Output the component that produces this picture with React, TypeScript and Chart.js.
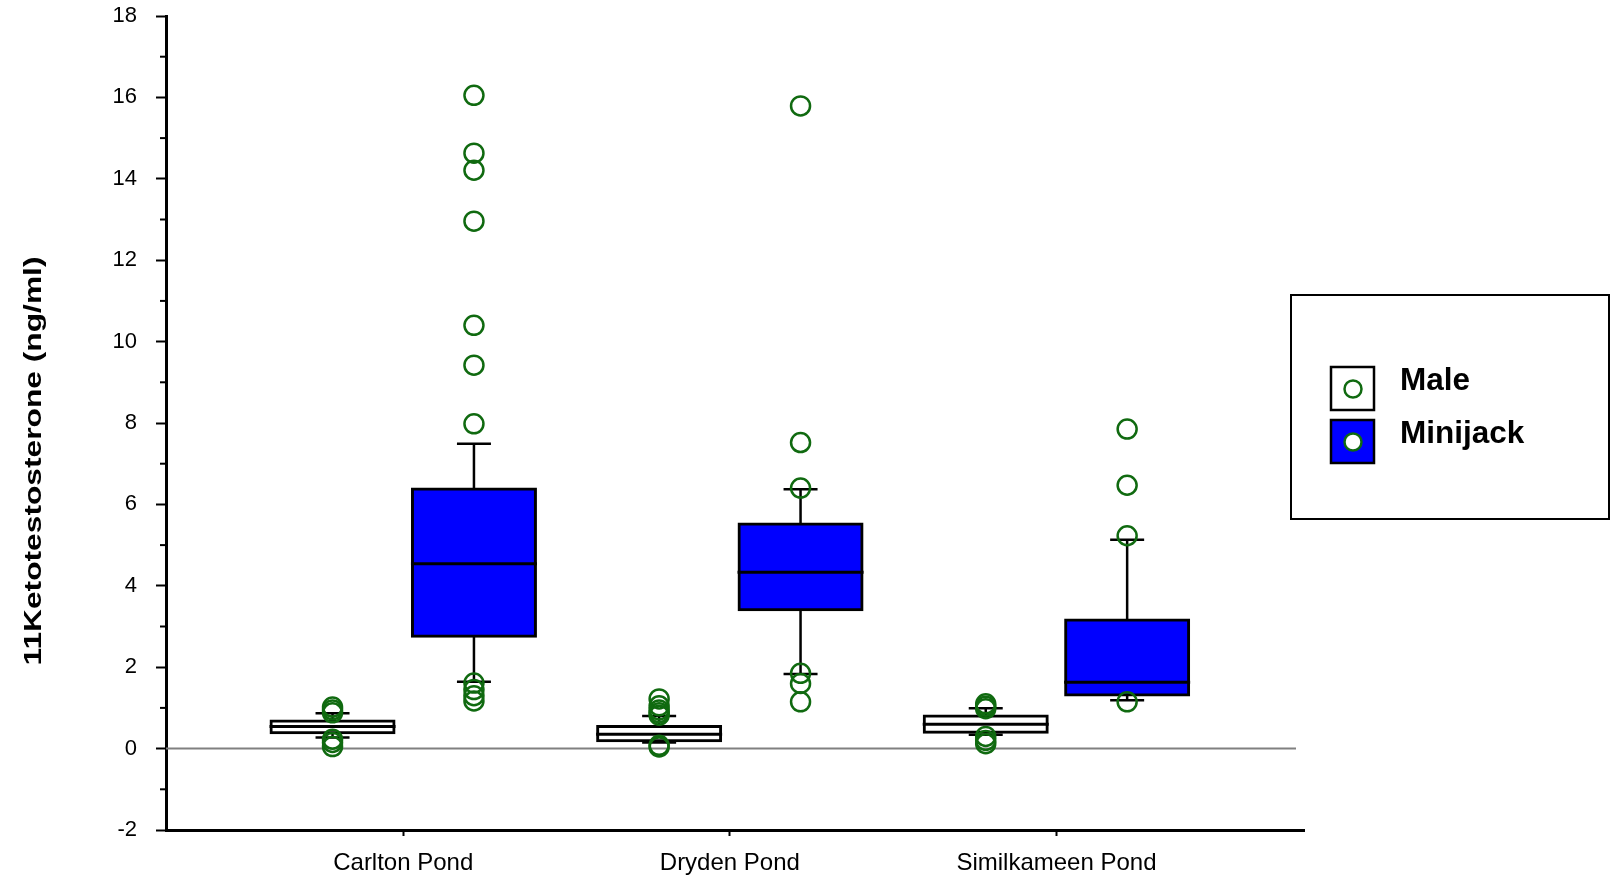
import { useEffect, useRef } from 'react';
import { Chart, registerables } from 'chart.js';

Chart.register(...registerables);

// ---------- data ----------
const ponds = ['Carlton Pond', 'Dryden Pond', 'Similkameen Pond'];
const seriesNames = ['Male', 'Minijack'];

const maleQ1 = [0.39, 0.19, 0.40];
const maleMedian = [0.54, 0.35, 0.60];
const maleQ3 = [0.68, 0.54, 0.80];
const maleWhiskerLow = [0.27, 0.15, 0.34];
const maleWhiskerHigh = [0.87, 0.80, 0.99];
const maleOutliers = [
  [1.02, 0.95, 0.88, 0.23, 0.15, 0.05],
  [1.22, 1.05, 0.95, 0.88, 0.82, 0.08, 0.04],
  [1.10, 1.04, 0.98, 0.30, 0.20, 0.12],
];

const minijackQ1 = [2.76, 3.41, 1.32];
const minijackMedian = [4.54, 4.33, 1.63];
const minijackQ3 = [6.38, 5.52, 3.16];
const minijackWhiskerLow = [1.64, 1.83, 1.19];
const minijackWhiskerHigh = [7.49, 6.37, 5.13];
const minijackOutliers = [
  [16.05, 14.63, 14.21, 12.96, 10.40, 9.42, 7.98, 1.61, 1.45, 1.30, 1.17],
  [15.79, 7.52, 6.40, 1.85, 1.60, 1.15],
  [7.85, 6.47, 5.23, 1.15],
];

const yMin = -2;
const yMax = 18;
const yStep = 2;
const yTitle = '11Ketotestosterone (ng/ml)';

// ---------- styling / layout ----------
const FONT = "'Liberation Sans', Arial, Helvetica, sans-serif";
const GREEN = '#106a10';
const BLUE = '#0000ff';
const GROUP_OFFSET = 0.2165;
const BAR_THICK = 123;
const BOX_W = 126;
const CAP_W = 34;

const groups = [
  { name: seriesNames[0], q1: maleQ1, med: maleMedian, q3: maleQ3, lo: maleWhiskerLow, hi: maleWhiskerHigh, out: maleOutliers, fill: '#ffffff', offset: -GROUP_OFFSET },
  { name: seriesNames[1], q1: minijackQ1, med: minijackMedian, q3: minijackQ3, lo: minijackWhiskerLow, hi: minijackWhiskerHigh, out: minijackOutliers, fill: BLUE, offset: GROUP_OFFSET },
];

const boxPlugin = {
  id: 'boxExtras',
  beforeDatasetsDraw(chart: any) {
    const { ctx, chartArea, scales } = chart;
    const x = scales.x;
    const y = scales.y;
    ctx.save();
    const y0 = y.getPixelForValue(0);
    ctx.strokeStyle = '#808080';
    ctx.lineWidth = 2;
    ctx.beginPath();
    ctx.moveTo(chartArea.left, y0);
    ctx.lineTo(chartArea.right - 8, y0);
    ctx.stroke();

    ctx.strokeStyle = '#000';
    ctx.lineWidth = 2.5;
    groups.forEach((g) => {
      ponds.forEach((_, i) => {
        const px = x.getPixelForValue(i + 1 + g.offset);
        const pHi = y.getPixelForValue(g.hi[i]);
        const pQ3 = y.getPixelForValue(g.q3[i]);
        const pLo = y.getPixelForValue(g.lo[i]);
        const pQ1 = y.getPixelForValue(g.q1[i]);
        ctx.beginPath();
        ctx.moveTo(px, pQ3);
        ctx.lineTo(px, pHi);
        ctx.moveTo(px - CAP_W / 2, pHi);
        ctx.lineTo(px + CAP_W / 2, pHi);
        ctx.moveTo(px, pQ1);
        ctx.lineTo(px, pLo);
        ctx.moveTo(px - CAP_W / 2, pLo);
        ctx.lineTo(px + CAP_W / 2, pLo);
        ctx.stroke();
      });
    });
    ctx.restore();
  },
  afterDatasetDraw(chart: any, args: any) {
    const ds = chart.data.datasets[args.index];
    if (ds.groupIndex === undefined || ds.type !== 'bar') return;
    const g = groups[ds.groupIndex];
    const { ctx, scales } = chart;
    ctx.save();
    ctx.strokeStyle = '#000';
    ctx.lineWidth = 3;
    ponds.forEach((_, i) => {
      const px = scales.x.getPixelForValue(i + 1 + g.offset);
      const pm = scales.y.getPixelForValue(g.med[i]);
      ctx.beginPath();
      ctx.moveTo(px - BOX_W / 2, pm);
      ctx.lineTo(px + BOX_W / 2, pm);
      ctx.stroke();
    });
    ctx.restore();
  },
  afterDraw(chart: any) {
    const { ctx, chartArea, scales } = chart;
    const y = scales.y;
    ctx.save();
    // minor ticks
    ctx.strokeStyle = '#000';
    ctx.lineWidth = 2;
    for (let v = yMin + yStep / 2; v < yMax; v += yStep) {
      const py = y.getPixelForValue(v);
      ctx.beginPath();
      ctx.moveTo(chartArea.left - 6, py);
      ctx.lineTo(chartArea.left, py);
      ctx.stroke();
    }
    // y title
    ctx.save();
    ctx.translate(41, 461);
    ctx.rotate(-Math.PI / 2);
    ctx.font = `bold 24px ${FONT}`;
    ctx.fillStyle = '#000';
    ctx.textAlign = 'center';
    ctx.textBaseline = 'alphabetic';
    const w = ctx.measureText(yTitle).width;
    ctx.scale(409 / w, 1);
    ctx.fillText(yTitle, 0, 0);
    ctx.restore();

    // legend
    ctx.strokeStyle = '#000';
    ctx.lineWidth = 2;
    ctx.strokeRect(1291, 295, 318, 224);
    const rows = [
      { top: 367, base: 390 },
      { top: 420, base: 443 },
    ];
    groups.forEach((g, gi) => {
      const r = rows[gi];
      ctx.fillStyle = g.fill;
      ctx.fillRect(1331, r.top, 43, 43);
      ctx.strokeStyle = '#000';
      ctx.lineWidth = 2.5;
      ctx.strokeRect(1331, r.top, 43, 43);
      ctx.beginPath();
      ctx.arc(1353, r.top + 22, 8.5, 0, Math.PI * 2);
      if (gi === 1) {
        ctx.fillStyle = '#fff';
        ctx.fill();
      }
      ctx.strokeStyle = GREEN;
      ctx.lineWidth = 2.5;
      ctx.stroke();
      ctx.fillStyle = '#000';
      ctx.font = `bold 31.5px ${FONT}`;
      ctx.textAlign = 'left';
      ctx.textBaseline = 'alphabetic';
      ctx.fillText(g.name, 1400, r.base);
    });
    ctx.restore();
  },
};

export default function App() {
  const ref = useRef<HTMLCanvasElement>(null);
  useEffect(() => {
    const datasets: any[] = [];
    groups.forEach((g) => {
      datasets.push({
        type: 'scatter',
        label: g.name + ' outliers',
        order: 0,
        data: ponds.flatMap((_, i) => g.out[i].map((v) => ({ x: i + 1 + g.offset, y: v }))),
        pointStyle: 'circle',
        pointRadius: 9.5,
        pointHoverRadius: 9.5,
        pointBorderWidth: 2.5,
        pointBorderColor: GREEN,
        pointBackgroundColor: 'rgba(0,0,0,0)',
        showLine: false,
      });
    });
    groups.forEach((g, gi) => {
      datasets.push({
        type: 'bar',
        label: g.name,
        groupIndex: gi,
        order: 1,
        data: ponds.map((_, i) => ({ x: i + 1 + g.offset, y: [g.q1[i], g.q3[i]] })),
        backgroundColor: g.fill,
        borderColor: '#000',
        borderWidth: 3,
        borderSkipped: false,
        barThickness: BAR_THICK,
        inflateAmount: 1.5,
        grouped: false,
      });
    });

    const chart = new Chart(ref.current as HTMLCanvasElement, {
      type: 'bar',
      data: { datasets },
      options: {
        animation: false,
        responsive: true,
        maintainAspectRatio: false,
        events: [],
        layout: { autoPadding: false, padding: { top: 16, right: 306, left: 0, bottom: 0 } },
        plugins: { legend: { display: false }, tooltip: { enabled: false } },
        scales: {
          x: {
            type: 'linear',
            min: 0.2736,
            max: 3.758,
            offset: false,
            afterBuildTicks: (scale: any) => {
              scale.ticks = ponds.map((_, i) => ({ value: i + 1 }));
            },
            afterFit: (scale: any) => {
              scale.height = 49;
              scale.paddingLeft = 0;
              scale.paddingRight = 0;
            },
            ticks: {
              autoSkip: false,
              maxRotation: 0,
              padding: 13,
              color: '#000',
              font: { family: FONT, size: 24 },
              callback: (v: any) => ponds[Math.round(Number(v)) - 1] ?? '',
            },
            grid: { drawOnChartArea: false, offset: false, tickLength: 6, tickWidth: 2, tickColor: '#000' },
            border: { color: '#000', width: 3 },
          },
          y: {
            type: 'linear',
            min: yMin,
            max: yMax,
            afterFit: (scale: any) => {
              scale.width = 166;
              scale.paddingTop = 0;
              scale.paddingBottom = 0;
            },
            ticks: {
              stepSize: yStep,
              padding: 19,
              color: '#000',
              font: { family: FONT, size: 22 },
            },
            grid: { drawOnChartArea: false, tickLength: 10, tickWidth: 2, tickColor: '#000' },
            border: { color: '#000', width: 3 },
          },
        },
      } as any,
      plugins: [boxPlugin],
    });
    return () => chart.destroy();
  }, []);

  return (
    <div style={{ position: 'fixed', left: 0, top: 0, width: 1610, height: 879, background: '#fff' }}>
      <canvas ref={ref} />
    </div>
  );
}
